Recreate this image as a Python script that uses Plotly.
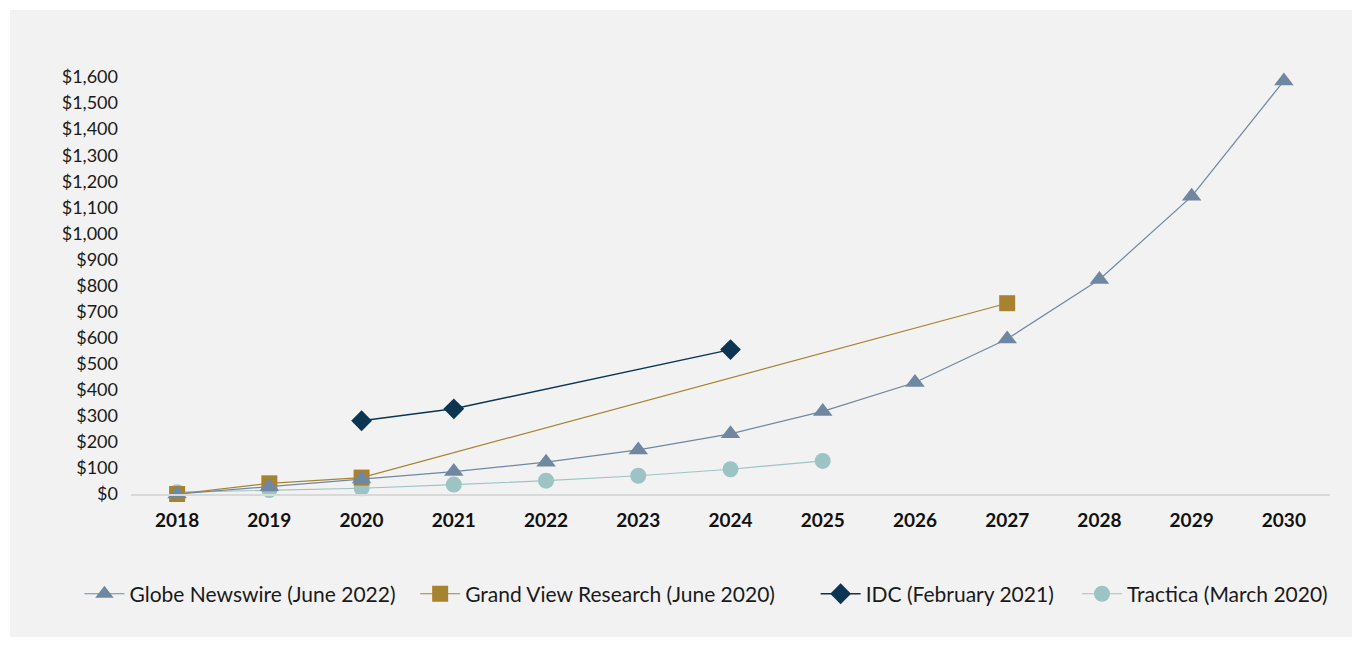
import plotly.graph_objects as go

years = [str(y) for y in range(2018, 2031)]

globe_years = years
globe_vals = [0, 28, 58, 86, 122, 169, 231, 317, 428, 595, 823, 1142, 1585]

gvr_years = ["2018", "2019", "2020", "2027"]
gvr_vals = [0, 41, 63, 732]

idc_years = ["2020", "2021", "2024"]
idc_vals = [281, 327, 554]

tractica_years = ["2018", "2019", "2020", "2021", "2022", "2023", "2024", "2025"]
tractica_vals = [7, 15, 22, 36, 51, 70, 95, 127]

FONT = "Lato"

fig = go.Figure()

# drawing order follows the reference: Tractica at the back, IDC on top
fig.add_trace(go.Scatter(
    x=tractica_years, y=tractica_vals, name="Tractica (March 2020)",
    mode="lines+markers", cliponaxis=False, legend="legend4",
    line=dict(color="#9cc4c4", width=1.2),
    marker=dict(symbol="circle", size=16, color="#9cc4c4"),
))

fig.add_trace(go.Scatter(
    x=gvr_years, y=gvr_vals, name="Grand View Research (June 2020)",
    mode="lines+markers", cliponaxis=False, legend="legend2",
    line=dict(color="#a8832f", width=1.2),
    marker=dict(symbol="square", size=16, color="#a8832f"),
))

fig.add_trace(go.Scatter(
    x=globe_years, y=globe_vals, name="Globe Newswire (June 2022)",
    mode="lines+markers", cliponaxis=False, legend="legend",
    line=dict(color="#6f87a0", width=1.2),
    marker=dict(symbol="triangle-up", size=17, color="#6f87a0"),
))

fig.add_trace(go.Scatter(
    x=idc_years, y=idc_vals, name="IDC (February 2021)",
    mode="lines+markers", cliponaxis=False, legend="legend3",
    line=dict(color="#0b3550", width=1.5),
    marker=dict(symbol="diamond", size=16, color="#0b3550"),
))


def legend_box(x):
    return dict(
        orientation="h", x=x, xanchor="left", y=-0.24, yanchor="middle",
        font=dict(family=FONT, size=21, color="#1a1a1a"),
        bgcolor="rgba(0,0,0,0)", itemwidth=40,
    )


# page body has an 8px margin, so the figure is 8px smaller and margins shifted
fig.update_layout(
    width=1354, height=639,
    margin=dict(l=123, r=32, t=69, b=153),
    paper_bgcolor="white",
    plot_bgcolor="#f2f2f2",
    font=dict(family=FONT, size=17, color="#1a1a1a"),
    showlegend=True,
    legend=legend_box(-0.043),
    legend2=legend_box(0.237),
    legend3=legend_box(0.571),
    legend4=legend_box(0.789),
    shapes=[dict(
        type="rect", xref="paper", yref="paper",
        x0=-0.1009, x1=1.0184, y0=-0.343, y1=1.1607,
        fillcolor="#f2f2f2", line=dict(width=0), layer="below"
    )],
    xaxis=dict(
        type="category", categoryorder="array", categoryarray=years,
        range=[-0.5, 12.5],
        showgrid=False, zeroline=False,
        showline=True, linecolor="#d9d9d9", linewidth=1.5,
        ticks="", ticklabelstandoff=8,
        tickfont=dict(family=FONT, size=19, color="#111111", weight="bold")
    ),
    yaxis=dict(
        range=[0, 1600], dtick=100, tick0=0,
        tickprefix="$", tickformat=",d",
        showgrid=False, zeroline=False, showline=False,
        ticks="", ticklabelstandoff=12,
        tickfont=dict(family=FONT, size=18, color="#1a1a1a")
    ),
)

fig.write_html("out.html")
